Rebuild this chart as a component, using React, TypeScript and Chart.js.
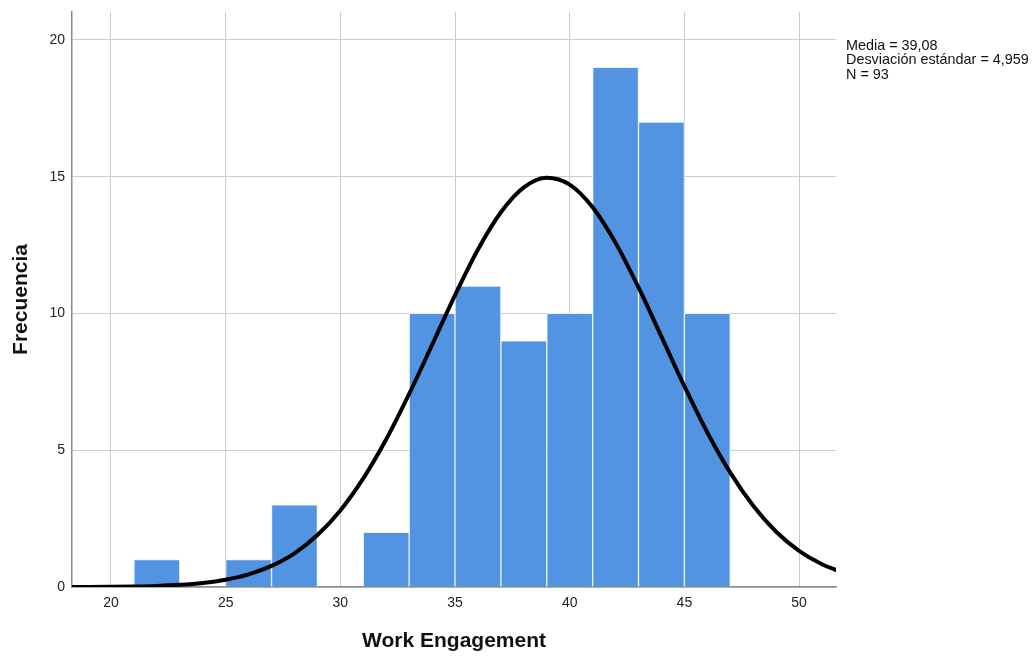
import React, { useEffect, useRef } from "react";
import { Chart, registerables } from "chart.js";

Chart.register(...registerables);

// Histogram bins (bin centres, width 2) and frequencies
const binCenters = [22, 24, 26, 28, 30, 32, 34, 36, 38, 40, 42, 44, 46];
const frequencies = [1, 0, 1, 3, 0, 2, 10, 11, 9, 10, 19, 17, 10];

// Normal curve (x, expected frequency)
const curveX = [18, 19, 20, 21, 22, 23, 24, 25, 26, 27, 28, 29, 30, 31, 32, 33, 34, 35, 36, 37, 38, 39, 40, 41, 42, 43, 44, 45, 46, 47, 48, 49, 50, 51, 52];
const curveY = [0.002, 0.004, 0.009, 0.019, 0.04, 0.078, 0.147, 0.266, 0.462, 0.77, 1.23, 1.9, 2.8, 3.97, 5.4, 7.06, 8.85, 10.67, 12.34, 13.7, 14.61, 14.96, 14.71, 13.88, 12.58, 10.95, 9.15, 7.34, 5.65, 4.18, 2.97, 2.02, 1.32, 0.83, 0.5];

const xTicks = [20, 25, 30, 35, 40, 45, 50];
const yTicks = [0, 5, 10, 15, 20];

const statLines = ["Media = 39,08", "Desviación estándar = 4,959", "N = 93"];

const xTitle = "Work Engagement";
const yTitle = "Frecuencia";

export default function App() {
  const ref = useRef<HTMLCanvasElement | null>(null);

  useEffect(() => {
    if (!ref.current) return;
    const font = "'Liberation Sans', Arial, sans-serif";
    const chart = new Chart(ref.current, {
      type: "bar",
      data: {
        datasets: [
          {
            type: "line",
            data: curveX.map((x, i) => ({ x, y: curveY[i] })),
            borderColor: "#000000",
            borderWidth: 4,
            pointRadius: 0,
            cubicInterpolationMode: "monotone",
            fill: false,
            order: 0,
          } as any,
          {
            type: "bar",
            data: binCenters.map((x, i) => ({ x, y: frequencies[i] })),
            backgroundColor: "#5294e2",
            borderColor: "rgba(235,242,252,0.95)",
            borderWidth: 1,
            barPercentage: 1,
            categoryPercentage: 1,
            order: 1,
          } as any,
        ],
      },
      options: {
        responsive: false,
        animation: false,
        maintainAspectRatio: false,
        layout: { padding: { top: 12, right: 197, left: 0, bottom: 0 } },
        plugins: { legend: { display: false }, tooltip: { enabled: false } },
        scales: {
          x: {
            type: "linear",
            min: 18.3,
            max: 51.61,
            offset: false,
            afterBuildTicks: (s: any) => {
              s.ticks = xTicks.map((v) => ({ value: v }));
            },
            afterFit: (s: any) => {
              s.height = 70;
              s.paddingLeft = 0;
              s.paddingRight = 0;
            },
            grid: { color: "#cccccc", lineWidth: 1, drawTicks: false, offset: false },
            border: { color: "#8a8a8a", width: 1.5 },
            ticks: { color: "#222222", padding: 8, font: { size: 14, family: font } },
            title: {
              display: true,
              text: xTitle,
              color: "#111111",
              font: { size: 21, weight: "bold", family: font },
              padding: { top: 0, bottom: 3 },
            },
          },
          y: {
            type: "linear",
            min: 0,
            max: 21.02,
            afterBuildTicks: (s: any) => {
              s.ticks = yTicks.map((v) => ({ value: v }));
            },
            afterFit: (s: any) => {
              s.width = 72;
              s.paddingTop = 0;
              s.paddingBottom = 0;
            },
            grid: { color: "#cccccc", lineWidth: 1, drawTicks: false },
            border: { color: "#8a8a8a", width: 1.5 },
            ticks: { color: "#222222", padding: 7, font: { size: 14, family: font } },
            title: {
              display: true,
              text: yTitle,
              color: "#111111",
              font: { size: 21, weight: "bold", family: font },
              padding: { top: 9, bottom: 0 },
            },
          },
        },
      },
    });
    return () => chart.destroy();
  }, []);

  return (
    <div style={{ position: "fixed", left: 0, top: 0, width: 1033, height: 657, background: "#ffffff" }}>
      <canvas ref={ref} width={1033} height={657} style={{ width: 1033, height: 657, display: "block" }} />
      <div
        style={{
          position: "absolute",
          left: 846,
          top: 38,
          fontFamily: "'Liberation Sans', Arial, sans-serif",
          fontSize: 14.4,
          lineHeight: "14.3px",
          color: "#111111",
          whiteSpace: "nowrap",
        }}
      >
        {statLines.map((t) => (
          <div key={t}>{t}</div>
        ))}
      </div>
    </div>
  );
}
